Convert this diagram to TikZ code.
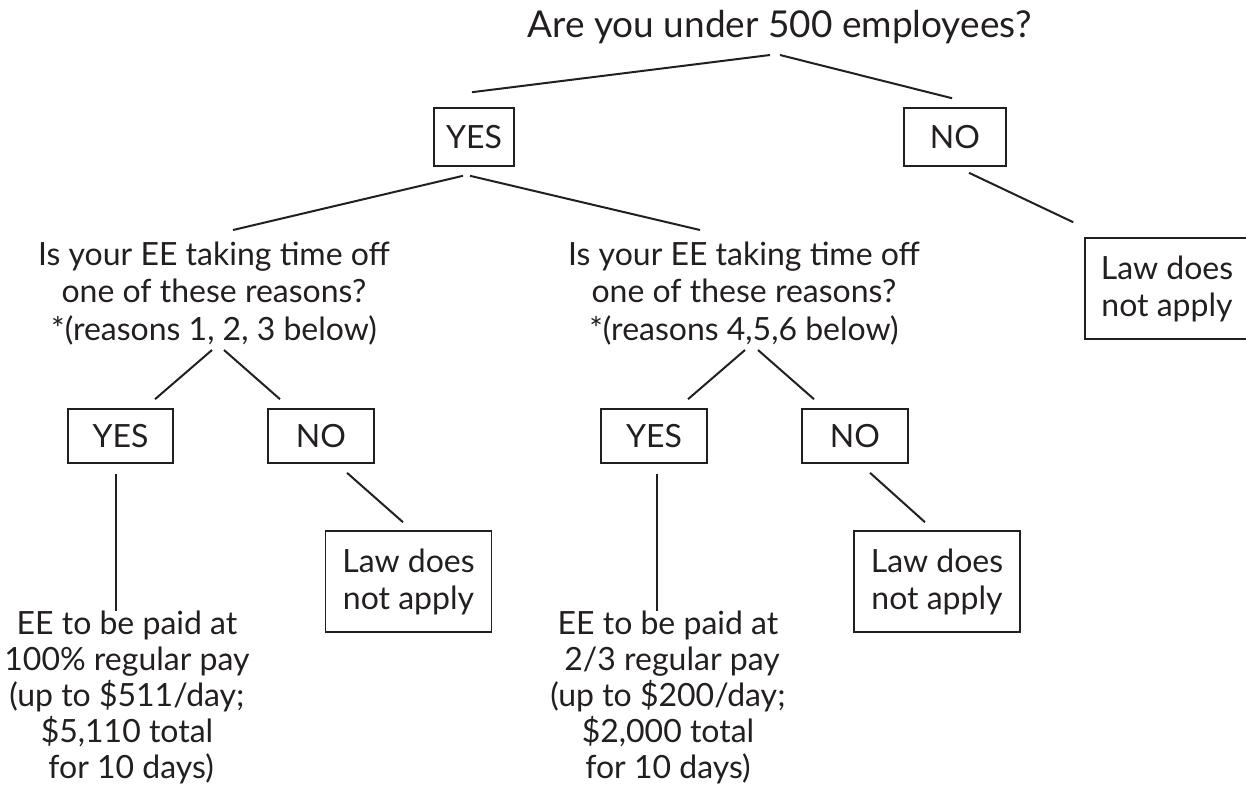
\documentclass[tikz,border=0pt]{standalone}
\usepackage{fontspec}
\setmainfont{Lato}
\usetikzlibrary{calc}
\definecolor{ink}{HTML}{231F20}
\begin{document}
\begin{tikzpicture}[x=1pt,y=-1pt,
  every node/.style={text=ink, font=\fontsize{32}{37.5}\selectfont},
  box/.style={draw=ink, line width=1.6pt, inner sep=0pt, minimum height=54pt, minimum width=106pt},
  lawbox/.style={draw=ink, line width=1.6pt, inner sep=0pt, minimum height=101pt, minimum width=166pt, align=center, font=\fontsize{32}{37}\selectfont},
  conn/.style={draw=ink, line width=2pt},
  question/.style={align=center, inner sep=0pt, anchor=base, font=\fontsize{32}{37.5}\selectfont},
  result/.style={align=center, inner sep=0pt, anchor=base, font=\fontsize{32}{35.8}\selectfont}]
\useasboundingbox (0,0) rectangle (1246,807);
\clip (0,0) rectangle (1246,807);

% nodes
\node[inner sep=0pt, anchor=base, font=\fontsize{37}{44}\selectfont] (title) at (779.5,37) {Are you under 500 employees?};
\node[box, minimum width=80pt, minimum height=58pt] (yes) at (474,137) {YES};
\node[box, minimum width=102pt, minimum height=58pt] (no) at (955,137) {NO};
\node[lawbox, minimum width=164pt] (law0) at (1167,288.5) {Law does\\not apply};

\node[question] (q1) at (214,340) {Is your EE taking time off\\one of these reasons?\\*(reasons 1, 2, 3 below)};
\node[question] (q2) at (744,340) {Is your EE taking time off\\one of these reasons?\\*(reasons 4,5,6 below)};

\node[box, minimum width=105pt] (yes1) at (120.5,436) {YES};
\node[box] (no1) at (321,436) {NO};
\node[box] (yes2) at (654,436) {YES};
\node[box] (no2) at (855,436) {NO};

\node[lawbox] (law1) at (408.5,581.5) {Law does\\not apply};
\node[lawbox] (law2) at (937,581.5) {Law does\\not apply};

\node[result] (pay1) at (127,778) {EE to be paid at\\100\% regular pay\\(up to \$511/day;\\\$5,110 total\\\ for 10 days)};
\node[result] (pay2) at (668,778) {EE to be paid at\\\ 2/3 regular pay\\(up to \$200/day;\\\$2,000 total\\for 10 days)};

% connectors
\draw[conn] ($(title.base)+(-9.5,18)$) -- ($(yes.north)+(-2,-15)$);
\draw[conn] ($(title.base)+(0.5,18)$) -- ($(no.north)+(-3,-9)$);
\draw[conn] ($(yes.south)+(-11,9)$) -- ($(q1.base)+(19,-110)$);
\draw[conn] ($(yes.south)+(-4,9)$) -- ($(q2.base)+(-44,-110)$);
\draw[conn] ($(no.south)+(14,6)$) -- ($(law0.north west)+(-11,-15)$);
\draw[conn] ($(q1.base)+(-2,10)$) -- ($(yes1.north)+(34.5,-9)$);
\draw[conn] ($(q1.base)+(10,10)$) -- ($(no1.north)+(-41,-9)$);
\draw[conn] ($(q2.base)+(1,10)$) -- ($(yes2.north)+(34,-9)$);
\draw[conn] ($(q2.base)+(14,10)$) -- ($(no2.north)+(-41,-9)$);
\draw[conn] ($(yes1.south)+(-4.5,10)$) -- ($(yes1.south)+(-4.5,147)$);
\draw[conn] ($(yes2.south)+(3,10)$) -- ($(yes2.south)+(3,147)$);
\draw[conn] ($(no1.south)+(26,9)$) -- ($(law1.north)+(-5.5,-8)$);
\draw[conn] ($(no2.south)+(15,9)$) -- ($(law2.north)+(-12,-8)$);
\end{tikzpicture}
\end{document}
